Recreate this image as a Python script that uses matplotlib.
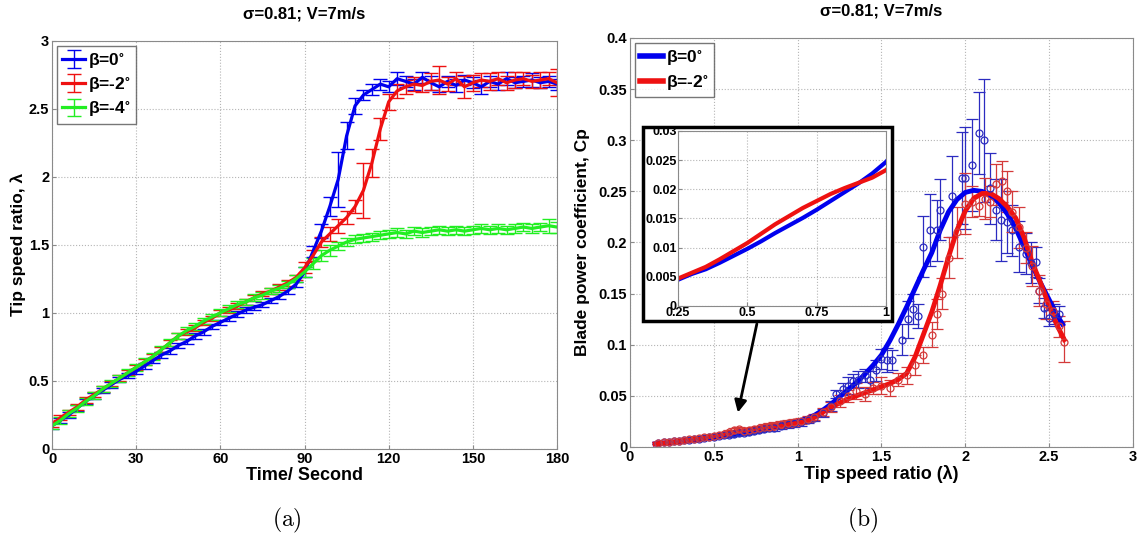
import numpy as np
import matplotlib
matplotlib.use("Agg")
import matplotlib.pyplot as plt
from matplotlib.patches import Rectangle
from matplotlib.ticker import FormatStrFormatter

plt.rcParams['font.family'] = ['Liberation Sans', 'DejaVu Sans']
plt.rcParams['font.weight'] = 'bold'
plt.rcParams['mathtext.fontset'] = 'stix'

# ---- panel (a): tip speed ratio vs time ----
t = np.arange(0, 181, 3)
lam_b0 = [0.17, 0.21, 0.25, 0.30, 0.35, 0.39, 0.43, 0.47, 0.51, 0.54,
          0.57, 0.61, 0.65, 0.69, 0.72, 0.76, 0.79, 0.83, 0.86, 0.90,
          0.93, 0.96, 0.99, 1.02, 1.04, 1.06, 1.09, 1.12, 1.16, 1.21,
          1.30, 1.45, 1.60, 1.78, 1.98, 2.30, 2.52, 2.60, 2.64, 2.68,
          2.66, 2.72, 2.70, 2.68, 2.73, 2.69, 2.66, 2.70, 2.67, 2.71,
          2.69, 2.66, 2.70, 2.68, 2.72, 2.69, 2.70, 2.71, 2.69, 2.70, 2.68]
lam_b2 = [0.18, 0.23, 0.27, 0.31, 0.36, 0.40, 0.44, 0.48, 0.52, 0.56,
          0.60, 0.64, 0.68, 0.73, 0.78, 0.83, 0.86, 0.89, 0.93, 0.96,
          1.00, 1.02, 1.05, 1.08, 1.11, 1.14, 1.16, 1.19, 1.22, 1.26,
          1.33, 1.42, 1.52, 1.58, 1.64, 1.70, 1.78, 1.90, 2.10, 2.35,
          2.55, 2.63, 2.66, 2.68, 2.67, 2.70, 2.71, 2.68, 2.72, 2.66,
          2.69, 2.71, 2.70, 2.72, 2.69, 2.71, 2.72, 2.70, 2.71, 2.72, 2.69]
lam_b4 = [0.17, 0.21, 0.26, 0.30, 0.35, 0.39, 0.44, 0.48, 0.52, 0.56,
          0.60, 0.64, 0.68, 0.73, 0.78, 0.83, 0.87, 0.90, 0.94, 0.97,
          1.00, 1.03, 1.06, 1.08, 1.11, 1.13, 1.16, 1.18, 1.21, 1.25,
          1.30, 1.36, 1.42, 1.46, 1.49, 1.52, 1.54, 1.55, 1.56, 1.57,
          1.58, 1.59, 1.58, 1.60, 1.59, 1.60, 1.61, 1.60, 1.61, 1.60,
          1.61, 1.62, 1.61, 1.62, 1.61, 1.62, 1.63, 1.62, 1.63, 1.64, 1.63]
err_b0 = [0.02] * 30 + [0.04, 0.04, 0.05, 0.07, 0.20, 0.10, 0.06, 0.04, 0.04, 0.04,
                        0.04, 0.05, 0.04, 0.04, 0.04, 0.05, 0.04, 0.04, 0.05, 0.04,
                        0.04, 0.05, 0.04, 0.04, 0.05, 0.04, 0.04, 0.05, 0.04, 0.04, 0.04]
err_b2 = [0.02] * 30 + [0.04, 0.04, 0.04, 0.05, 0.05, 0.05, 0.05, 0.20, 0.10, 0.08,
                        0.06, 0.05, 0.05, 0.05, 0.05, 0.06, 0.10, 0.05, 0.05, 0.08,
                        0.06, 0.05, 0.06, 0.05, 0.05, 0.06, 0.05, 0.05, 0.06, 0.05, 0.10]
err_b4 = [0.025] * 30 + [0.04, 0.04, 0.04, 0.04, 0.03, 0.03, 0.03, 0.03, 0.03, 0.03,
                         0.03, 0.03, 0.03, 0.03, 0.03, 0.03, 0.03, 0.03, 0.03, 0.03,
                         0.03, 0.03, 0.03, 0.03, 0.03, 0.03, 0.03, 0.03, 0.03, 0.05, 0.04]

# ---- panel (b): Cp vs tip speed ratio ----
fit_x0 = [0.15, 0.25, 0.30, 0.35, 0.40, 0.45, 0.50, 0.55, 0.60, 0.65, 0.70, 0.75,
          0.80, 0.85, 0.90, 0.95, 1.00, 1.05, 1.10, 1.15, 1.20, 1.25, 1.30, 1.35,
          1.40, 1.45, 1.50, 1.55, 1.60, 1.65, 1.70, 1.75, 1.80, 1.85, 1.90, 1.95,
          2.00, 2.05, 2.10, 2.15, 2.20, 2.25, 2.30, 2.35, 2.40, 2.45, 2.50, 2.55, 2.58]
fit_y0 = [0.0030, 0.0045, 0.0055, 0.0063, 0.0074, 0.0086, 0.0098, 0.0111, 0.0125,
          0.0138, 0.0151, 0.0165, 0.0180, 0.0195, 0.0210, 0.0227, 0.0247, 0.0275,
          0.031, 0.036, 0.042, 0.049, 0.056, 0.063, 0.071, 0.080, 0.090, 0.104,
          0.120, 0.137, 0.155, 0.173, 0.190, 0.212, 0.230, 0.242, 0.249, 0.251,
          0.250, 0.246, 0.239, 0.228, 0.214, 0.196, 0.177, 0.160, 0.144, 0.128, 0.120]
fit_x2 = [0.15, 0.25, 0.30, 0.35, 0.40, 0.45, 0.50, 0.55, 0.60, 0.65, 0.70, 0.75,
          0.80, 0.85, 0.90, 0.95, 1.00, 1.05, 1.10, 1.15, 1.20, 1.25, 1.30, 1.35,
          1.40, 1.45, 1.50, 1.55, 1.60, 1.65, 1.70, 1.75, 1.80, 1.85, 1.90, 1.95,
          2.00, 2.05, 2.10, 2.15, 2.20, 2.25, 2.30, 2.35, 2.40, 2.45, 2.50, 2.55, 2.59]
fit_y2 = [0.0030, 0.0047, 0.0057, 0.0067, 0.0080, 0.0094, 0.0108, 0.0124, 0.0140,
          0.0154, 0.0168, 0.0180, 0.0192, 0.0202, 0.0211, 0.0220, 0.0233, 0.0255,
          0.029, 0.034, 0.039, 0.043, 0.047, 0.050, 0.053, 0.056, 0.059, 0.062,
          0.066, 0.072, 0.088, 0.110, 0.132, 0.158, 0.186, 0.212, 0.231, 0.243,
          0.248, 0.248, 0.243, 0.235, 0.224, 0.205, 0.180, 0.160, 0.138, 0.118, 0.105]

pts_x0 = [0.17, 0.20, 0.23, 0.26, 0.29, 0.32, 0.35, 0.38, 0.41, 0.44,
          0.47, 0.50, 0.53, 0.56, 0.59, 0.62, 0.65, 0.68, 0.71, 0.74,
          0.77, 0.80, 0.83, 0.86, 0.90, 0.94, 0.98, 1.02, 1.06, 1.10,
          1.15, 1.20, 1.23, 1.27, 1.30, 1.33, 1.36, 1.40, 1.43, 1.47,
          1.50, 1.53, 1.56, 1.62, 1.66, 1.69, 1.72, 1.75, 1.79, 1.83,
          1.85, 1.92, 1.98, 2.00, 2.04, 2.08, 2.11, 2.15, 2.18, 2.21,
          2.25, 2.28, 2.32, 2.36, 2.39, 2.42, 2.44, 2.47, 2.50, 2.53, 2.56]
pts_y0 = [0.004, 0.0045, 0.005, 0.0055, 0.006, 0.0065, 0.007, 0.0075, 0.008, 0.009,
          0.0095, 0.010, 0.011, 0.0115, 0.012, 0.013, 0.014, 0.014, 0.015, 0.016,
          0.017, 0.018, 0.019, 0.019, 0.021, 0.022, 0.023, 0.024, 0.026, 0.028,
          0.033, 0.040, 0.052, 0.057, 0.060, 0.065, 0.066, 0.070, 0.066, 0.075,
          0.086, 0.085, 0.085, 0.105, 0.125, 0.135, 0.128, 0.196, 0.212, 0.212,
          0.232, 0.245, 0.263, 0.263, 0.276, 0.307, 0.300, 0.253, 0.232, 0.222,
          0.220, 0.212, 0.196, 0.189, 0.180, 0.181, 0.153, 0.136, 0.126, 0.130, 0.130]
pts_e0 = [0.001, 0.001, 0.001, 0.001, 0.001, 0.001, 0.001, 0.0015, 0.0015, 0.0015,
          0.0015, 0.0015, 0.002, 0.002, 0.002, 0.002, 0.002, 0.002, 0.002, 0.002,
          0.002, 0.002, 0.003, 0.003, 0.003, 0.003, 0.003, 0.003, 0.003, 0.003,
          0.004, 0.005, 0.004, 0.006, 0.008, 0.006, 0.008, 0.006, 0.008, 0.010,
          0.010, 0.012, 0.010, 0.015, 0.018, 0.015, 0.012, 0.030, 0.035, 0.030,
          0.030, 0.040, 0.045, 0.050, 0.045, 0.040, 0.060, 0.035, 0.030, 0.040,
          0.030, 0.025, 0.025, 0.020, 0.020, 0.015, 0.012, 0.010, 0.008, 0.010, 0.008]
pts_x2 = [0.17, 0.20, 0.23, 0.26, 0.29, 0.32, 0.35, 0.38, 0.41, 0.44,
          0.47, 0.50, 0.53, 0.56, 0.59, 0.62, 0.65, 0.68, 0.71, 0.74,
          0.77, 0.80, 0.83, 0.86, 0.90, 0.94, 0.98, 1.02, 1.06, 1.10,
          1.15, 1.20, 1.25, 1.30, 1.35, 1.40, 1.45, 1.50, 1.55, 1.60,
          1.65, 1.70, 1.75, 1.80, 1.83, 1.86, 1.90, 1.95, 2.00, 2.04,
          2.08, 2.12, 2.15, 2.18, 2.22, 2.25, 2.28, 2.32, 2.36, 2.40,
          2.44, 2.48, 2.52, 2.56, 2.59]
pts_y2 = [0.004, 0.0045, 0.005, 0.0055, 0.006, 0.007, 0.0075, 0.008, 0.009, 0.0095,
          0.010, 0.011, 0.012, 0.013, 0.015, 0.017, 0.018, 0.016, 0.017, 0.018,
          0.019, 0.020, 0.020, 0.021, 0.022, 0.023, 0.024, 0.025, 0.027, 0.029,
          0.034, 0.039, 0.045, 0.050, 0.055, 0.052, 0.058, 0.060, 0.058, 0.066,
          0.070, 0.080, 0.090, 0.110, 0.130, 0.150, 0.185, 0.210, 0.238, 0.240,
          0.236, 0.243, 0.240, 0.257, 0.260, 0.250, 0.230, 0.215, 0.195, 0.177,
          0.153, 0.140, 0.133, 0.118, 0.103]
pts_e2 = [0.001, 0.001, 0.001, 0.001, 0.001, 0.001, 0.001, 0.0015, 0.0015, 0.0015,
          0.0015, 0.0015, 0.002, 0.002, 0.002, 0.002, 0.002, 0.002, 0.002, 0.002,
          0.002, 0.002, 0.003, 0.003, 0.003, 0.003, 0.003, 0.003, 0.003, 0.003,
          0.004, 0.005, 0.006, 0.006, 0.008, 0.007, 0.006, 0.008, 0.008, 0.006,
          0.008, 0.010, 0.008, 0.012, 0.015, 0.015, 0.020, 0.025, 0.030, 0.015,
          0.010, 0.020, 0.015, 0.020, 0.020, 0.020, 0.020, 0.020, 0.015, 0.020,
          0.015, 0.015, 0.010, 0.010, 0.020]

labels_a = ['\u03b2=0$^{\\circ}$', '\u03b2=-2$^{\\circ}$', '\u03b2=-4$^{\\circ}$']

BLUE = '#0000ee'
RED = '#ee1111'
GREEN = '#22ee22'

fig = plt.figure(figsize=(11.38, 5.39), dpi=100)
ax1 = fig.add_axes([0.0457, 0.167, 0.4438, 0.7578])
ax2 = fig.add_axes([0.5536, 0.1707, 0.442, 0.7588])

for ax in (ax1, ax2):
    ax.grid(True, ls=':', color='#b5b5b5', lw=0.8)
    ax.set_axisbelow(True)
    for s in ax.spines.values():
        s.set_color('#8a8a8a')
        s.set_linewidth(0.8)
    ax.tick_params(direction='in', length=3, labelsize=10.5, pad=2, color='#8a8a8a')

# panel (a)
for y, e, c, lab in zip([lam_b0, lam_b2, lam_b4], [err_b0, err_b2, err_b4],
                        [BLUE, RED, GREEN], labels_a):
    ax1.errorbar(t, y, yerr=e, color=c, lw=2.3, elinewidth=1, capsize=5,
                 capthick=1, label=lab)
ax1.set_xlim(0, 180)
ax1.set_ylim(0, 3)
ax1.set_xticks(np.arange(0, 181, 30))
ax1.set_yticks(np.arange(0, 3.01, 0.5))
ax1.yaxis.set_major_formatter(FormatStrFormatter('%g'))
ax1.set_xlabel('Time/ Second', fontsize=13, fontweight='bold', labelpad=1)
ax1.set_ylabel('Tip speed ratio, \u03bb', fontsize=12.5, fontweight='bold', labelpad=2)
ax1.set_title('\u03c3=0.81; V=7m/s', fontsize=12, fontweight='bold', pad=16)
leg1 = ax1.legend(loc='upper left', fontsize=12.5, fancybox=False, edgecolor='#555555',
                  handlelength=1.3, handletextpad=0.2, borderaxespad=0.3,
                  labelspacing=0.3, borderpad=0.3)

# panel (b)
ax2.errorbar(pts_x0, pts_y0, yerr=pts_e0, fmt='o', color='#2b2bc0', mfc='none',
             ms=5, mew=0.9, elinewidth=0.9, capsize=4, capthick=0.9)
ax2.errorbar(pts_x2, pts_y2, yerr=pts_e2, fmt='o', color='#d43a3a', mfc='none',
             ms=5, mew=0.9, elinewidth=0.9, capsize=4, capthick=0.9)
ax2.plot(fit_x0, fit_y0, color=BLUE, lw=3.5, label=labels_a[0])
ax2.plot(fit_x2, fit_y2, color=RED, lw=3.5, label=labels_a[1])
ax2.set_xlim(0, 3)
ax2.set_ylim(0, 0.4)
ax2.set_xticks(np.arange(0, 3.01, 0.5))
ax2.set_yticks(np.arange(0, 0.401, 0.05))
ax2.xaxis.set_major_formatter(FormatStrFormatter('%g'))
ax2.yaxis.set_major_formatter(FormatStrFormatter('%g'))
ax2.set_xlabel('Tip speed ratio (\u03bb)', fontsize=13, fontweight='bold', labelpad=1)
ax2.set_ylabel('Blade power coefficient, Cp', fontsize=12.5, fontweight='bold', labelpad=6)
ax2.set_title('\u03c3=0.81; V=7m/s', fontsize=12, fontweight='bold', pad=16)
leg2 = ax2.legend(loc='upper left', fontsize=12.5, fancybox=False, edgecolor='#555555',
                  handlelength=1.3, handletextpad=0.2, borderaxespad=0.3,
                  labelspacing=0.3, borderpad=0.3)
for ln in leg2.get_lines():
    ln.set_linewidth(4)

ax2.annotate('', xy=(0.64, 0.031), xytext=(0.76, 0.123),
             arrowprops=dict(arrowstyle='-|>', color='k', lw=2, mutation_scale=18))

# inset box and inset axes
fig.add_artist(Rectangle((0.565, 0.4045), 0.2188, 0.36, transform=fig.transFigure,
                         facecolor='white', edgecolor='black', lw=2.5, zorder=2))
axi = fig.add_axes([0.5958, 0.4323, 0.1828, 0.3247])
axi.set_zorder(3)
axi.plot(fit_x0, fit_y0, color=BLUE, lw=3)
axi.plot(fit_x2, fit_y2, color=RED, lw=3)
axi.set_xlim(0.25, 1)
axi.set_ylim(0, 0.03)
axi.set_xticks([0.25, 0.5, 0.75, 1])
axi.set_yticks(np.arange(0, 0.0301, 0.005))
axi.xaxis.set_major_formatter(FormatStrFormatter('%g'))
axi.yaxis.set_major_formatter(FormatStrFormatter('%g'))
axi.grid(True, ls=':', color='#b5b5b5', lw=0.8)
for s in axi.spines.values():
    s.set_color('#8a8a8a')
    s.set_linewidth(0.8)
axi.tick_params(direction='in', length=3, labelsize=9, pad=1, color='#8a8a8a')

# sub-captions
fig.text(0.252, 0.035, r'$\mathrm{(a)}$', fontsize=17, ha='center', va='center',
         math_fontfamily='cm')
fig.text(0.758, 0.035, r'$\mathrm{(b)}$', fontsize=17, ha='center', va='center',
         math_fontfamily='cm')

fig.savefig('out.png', dpi=100)
